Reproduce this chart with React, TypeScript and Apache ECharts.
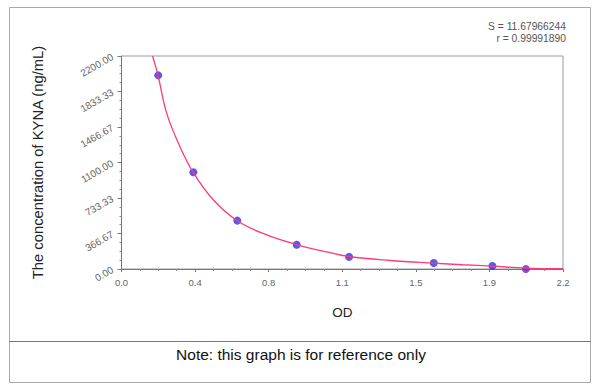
import React, { useEffect, useRef } from "react";
import * as echarts from "echarts";

const odValues = [0.183, 0.358, 0.577, 0.873, 1.134, 1.556, 1.848, 2.015];
const concValues = [2000, 1000, 500, 250, 125, 62.5, 31.25, 0];
const pointColors = ["#2e2ee4", "#2e2ee4", "#2e2ee4", "#2e2ee4", "#2e2ee4", "#2e2ee4", "#2e2ee4", "#6424cf"];

const fitOD = [0.155, 0.183, 0.225, 0.29, 0.358, 0.457, 0.577, 0.72, 0.873, 1.02, 1.134, 1.34, 1.556, 1.7, 1.848, 2.015, 2.2];
const fitConc = [2200, 1990, 1610, 1270, 995, 715, 498, 355, 253, 178, 129, 88, 60, 44, 29, 10, 3];

const xTickLabels = ["0.0", "0.4", "0.8", "1.1", "1.5", "1.9", "2.2"];
const yTickLabels = ["0.00", "366.67", "733.33", "1100.00", "1466.67", "1833.33", "2200.00"];

const statS = "S = 11.67966244";
const statR = "r = 0.99991890";
const yTitle = "The concentration of KYNA (ng/mL)";
const xTitle = "OD";
const note = "Note: this graph is for reference only";

const FONT = "'Liberation Sans', Arial, sans-serif";

export default function App() {
  const ref = useRef<HTMLDivElement>(null);
  useEffect(() => {
    document.body.style.margin = "0";
    const chart = echarts.init(ref.current!, null, { renderer: "svg" });
    const xMax = 2.2;
    const yMax = 2200;
    const xStep = xMax / 6;
    const yStep = yMax / 6;
    chart.setOption({
      animation: false,
      backgroundColor: "#ffffff",
      textStyle: { fontFamily: FONT },
      grid: { left: 121.5, right: 37, top: 56, bottom: 120, show: true, borderColor: "#9a9a9a", borderWidth: 1, backgroundColor: "transparent" },
      xAxis: {
        type: "value",
        min: 0,
        max: xMax,
        interval: xStep,
        name: xTitle,
        nameLocation: "middle",
        nameGap: 36,
        nameTextStyle: { fontSize: 13.5, color: "#222", fontFamily: FONT },
        axisLine: { show: true, lineStyle: { color: "#777", width: 1 } },
        axisTick: { show: true, length: 3, inside: false, lineStyle: { color: "#777" } },
        minorTick: { show: true, splitNumber: 4, length: 2, lineStyle: { color: "#888" } },
        splitLine: { show: false },
        axisLabel: {
          fontSize: 9.5,
          color: "#666",
          margin: 8,
          fontFamily: FONT,
          formatter: (v: number) => xTickLabels[Math.round(v / xStep)] ?? "",
        },
      },
      yAxis: {
        type: "value",
        min: 0,
        max: yMax,
        interval: yStep,
        name: yTitle,
        nameLocation: "middle",
        nameGap: 76,
        nameRotate: 90,
        nameTextStyle: { fontSize: 14.8, color: "#222", fontFamily: FONT },
        axisLine: { show: true, lineStyle: { color: "#777", width: 1 } },
        axisTick: { show: true, length: 4, lineStyle: { color: "#777" } },
        minorTick: { show: true, splitNumber: 4, length: 2, lineStyle: { color: "#888" } },
        splitLine: { show: false },
        axisLabel: {
          fontSize: 10,
          color: "#666",
          margin: 9,
          rotate: 30,
          fontFamily: FONT,
          formatter: (v: number) => yTickLabels[Math.round(v / yStep)] ?? "",
        },
      },
      series: [
        {
          type: "scatter",
          z: 2,
          symbolSize: 8,
          data: odValues.map((x, i) => ({ value: [x, concValues[i]], itemStyle: { color: pointColors[i] } })),
        },
        {
          type: "line",
          z: 3,
          smooth: 0.4,
          symbol: "none",
          clip: true,
          lineStyle: { color: "#ff3a7a", width: 1.3 },
          data: fitOD.map((x, i) => [x, fitConc[i]]),
        },
      ],
      graphic: [
        { type: "rect", shape: { x: 9.5, y: 7.5, width: 581, height: 375 }, style: { fill: "none", stroke: "#a8a8a8", lineWidth: 1 }, silent: true },
        { type: "line", shape: { x1: 9.5, y1: 341.5, x2: 590.5, y2: 341.5 }, style: { stroke: "#777", lineWidth: 1 }, silent: true },
        { type: "text", x: 566, y: 26, style: { text: statS, fontSize: 10.3, fill: "#555", align: "right", verticalAlign: "middle", fontFamily: FONT } },
        { type: "text", x: 566, y: 38, style: { text: statR, fontSize: 10.3, fill: "#555", align: "right", verticalAlign: "middle", fontFamily: FONT } },
        { type: "text", x: 301, y: 354, style: { text: note, fontSize: 15.5, fill: "#111", align: "center", verticalAlign: "middle", fontFamily: FONT } },
      ],
    });
    return () => chart.dispose();
  }, []);
  return <div ref={ref} style={{ width: 600, height: 389 }} />;
}
